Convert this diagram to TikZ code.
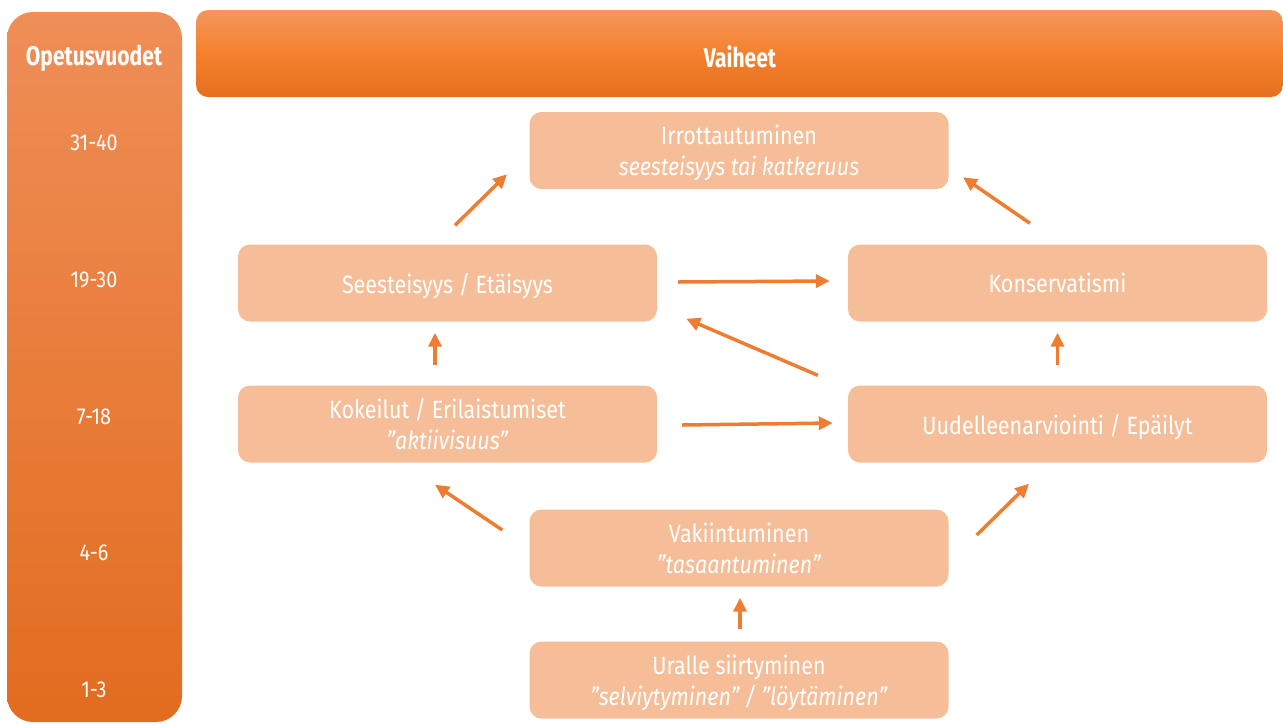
\documentclass[tikz,border=0pt]{standalone}
\usepackage{fontspec}
\setmainfont{Fira Sans}[FakeStretch=0.86]
\newfontfamily\hdfont{Fira Sans}[FakeStretch=0.78]
\usetikzlibrary{arrows.meta,calc}
\definecolor{boxfill}{HTML}{F5BE98}
\definecolor{arrcol}{HTML}{ED7D31}
\definecolor{coltop}{HTML}{EF8E57}
\definecolor{colbot}{HTML}{E26C1F}
\definecolor{hdtop}{HTML}{F6965C}
\definecolor{hdmid}{HTML}{F4812D}
\definecolor{hdbot}{HTML}{E66F1E}
\tikzset{
  stage/.style={fill=boxfill, rounded corners=12pt, minimum width=419pt, minimum height=77pt,
    text=white, align=center, inner sep=0pt, text depth=0pt, font=\fontsize{25}{31}\selectfont},
  arr/.style={draw=arrcol, line width=3.5pt, -{Triangle[length=14pt,width=13pt]}},
  yearlbl/.style={text=white, font=\fontsize{23}{26}\selectfont, inner sep=0pt},
  headlbl/.style={text=white, font=\hdfont\bfseries\fontsize{27}{30}\selectfont, inner sep=0pt}
}
\begin{document}
\begin{tikzpicture}[x=1pt,y=-1pt]
\useasboundingbox (0,0) rectangle (1283,724);
% left column
\shade[top color=coltop, bottom color=colbot, rounded corners=26pt] (7,12) rectangle (182,722);
\node[headlbl] (colhead) at (94,58) {Opetusvuodet};
\node[yearlbl] (y1) at (94,143) {31-40};
\node[yearlbl] (y2) at (94,280) {19-30};
\node[yearlbl] (y3) at (94,417) {7-18};
\node[yearlbl] (y4) at (94,553) {4-6};
\node[yearlbl] (y5) at (94,690) {1-3};
% header
\shade[top color=hdtop, bottom color=hdbot, middle color=hdmid, rounded corners=12pt] (196,10) rectangle (1283,97);
\node[headlbl] (hdr) at (740,57) {Vaiheet};
% stages
\node[stage] (irr) at (739,150.5) {Irrottautuminen\\\textit{seesteisyys tai katkeruus}};
\node[stage] (see) at (447.5,283) {Seesteisyys / Etäisyys};
\node[stage] (kon) at (1057.5,283) {Konservatismi};
\node[stage] (kok) at (447.5,424) {Kokeilut / Erilaistumiset\\\textit{"aktiivisuus"}};
\node[stage] (uud) at (1057.5,424) {Uudelleenarviointi / Epäilyt};
\node[stage] (vak) at (739,548) {Vakiintuminen\\\textit{"tasaantuminen"}};
\node[stage] (ura) at (739,680) {Uralle siirtyminen\\\textit{"selviytyminen" / "löytäminen"}};
% arrows
\draw[arr] ($(see.north)+(7.5,-19)$) -- ($(irr.south)+(-232,-15)$);
\draw[arr] ($(kon.north)+(-27.5,-21)$) -- ($(irr.south)+(224,-12)$);
\draw[arr] ($(see.east)+(21,-1)$) -- ($(kon.west)+(-18,-2)$);
\draw[arr] ($(uud.north west)+(-30,-10)$) -- ($(see.south east)+(29,-3)$);
\draw[arr] ($(kok.north)+(-12.5,-20)$) -- ($(see.south)+(-12.5,11)$);
\draw[arr] ($(uud.north)+(0,-20)$) -- ($(kon.south)+(0,11)$);
\draw[arr] ($(kok.east)+(25,1)$) -- ($(uud.west)+(-15,-1)$);
\draw[arr] ($(vak.west)+(-27,-18)$) -- ($(kok.south)+(-12.5,22)$);
\draw[arr] ($(vak.east)+(28,-13)$) -- ($(uud.south)+(-28.5,21)$);
\draw[arr] ($(ura.north)+(1,-12)$) -- ($(vak.south)+(1,11)$);
\end{tikzpicture}
\end{document}
